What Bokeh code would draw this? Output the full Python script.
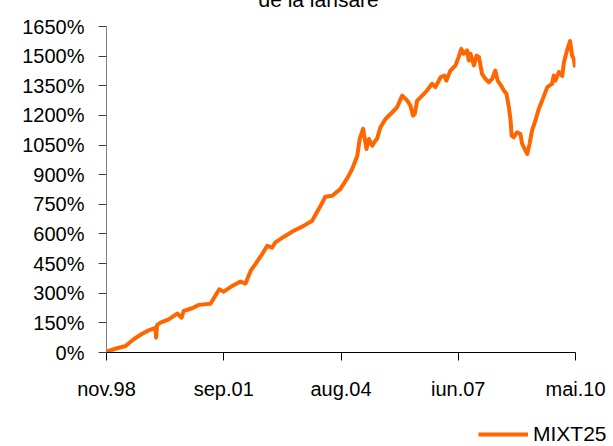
from bokeh.plotting import figure
from bokeh.layouts import column
from bokeh.models import (FixedTicker, PrintfTickFormatter, Legend,
                          LegendItem, ColumnDataSource)
from bokeh.embed import file_html
from bokeh.resources import INLINE

# ---- data (months since launch, Nov 1998; value in % since launch) ----
months = [0.0, 2.6, 5.6, 8.0, 10.5, 12.4, 14.2, 14.4, 14.6, 14.9, 15.9,
          18.3, 20.8, 22.1, 22.7, 25.2, 27.2, 30.6, 31.6, 33.2, 34.5,
          37.0, 39.4, 40.9, 42.4, 43.8, 45.8, 47.3, 48.7, 49.7, 52.1,
          55.1, 58.0, 60.5, 63.0, 64.4, 66.4, 68.8, 71.0, 72.3, 73.8,
          74.5, 75.5, 76.5, 77.2, 78.2, 79.1, 79.6, 80.6, 82.1, 84.1,
          85.5, 87.0, 88.5, 89.4, 90.2, 90.7, 91.4, 92.9, 94.3, 95.8,
          96.8, 98.3, 99.4, 100.0, 101.2, 102.7, 103.6, 104.4, 105.1,
          106.1, 106.6, 107.1, 108.1, 108.9, 109.6, 110.5, 111.5, 112.5,
          113.5, 114.4, 115.1, 116.1, 116.9, 117.7, 118.4, 118.9, 119.2,
          119.8, 120.8, 121.8, 122.3, 123.3, 123.8, 124.5, 125.2, 126.2,
          127.2, 128.2, 129.7, 131.1, 131.6, 132.1, 133.1, 134.1, 134.6,
          135.5, 136.4, 137.0, 137.5, 137.8, 138.0]
mixt25 = [4, 19, 33, 67, 95, 112, 123, 125, 75, 140, 151,
          168, 197, 176, 210, 224, 241, 247, 275, 320, 308,
          337, 359, 349, 413, 447, 498, 540, 531, 557, 585,
          616, 641, 667, 743, 788, 793, 827, 886, 929, 996,
          1081, 1132, 1030, 1081, 1047, 1072, 1081, 1140, 1182, 1216,
          1241, 1300, 1275, 1250, 1199, 1208, 1275, 1300, 1326, 1360,
          1343, 1393, 1402, 1376, 1427, 1453, 1495, 1537, 1512,
          1529, 1478, 1512, 1453, 1503, 1495, 1410, 1385, 1368,
          1385, 1427, 1376, 1351, 1326, 1309, 1241, 1174, 1098,
          1089, 1114, 1106, 1056, 1022, 1005, 1056, 1123, 1174,
          1233, 1275, 1343, 1360, 1402, 1376, 1420, 1400, 1469,
          1529, 1576, 1503, 1486, 1453, 1444]

tick_months = [0, 34.5, 69, 103.5, 138]
tick_labels = ["nov.98", "sep.01", "aug.04", "iun.07", "mai.10"]
y_ticks = [0, 150, 300, 450, 600, 750, 900, 1050, 1200, 1350, 1500, 1650]
series_name = "MIXT25"
title_text = "de la lansare"

FONT = "Liberation Sans"
ORANGE = "#FF6600"

src = ColumnDataSource(dict(m=months, v=mixt25))

# ---------------- main chart ----------------
p = figure(frame_width=469, frame_height=326,
           x_range=(tick_months[0], tick_months[-1]),
           y_range=(y_ticks[0], y_ticks[-1]),
           min_border_left=106, min_border_right=38,
           min_border_top=60, min_border_bottom=66,
           output_backend="svg", toolbar_location=None,
           styles={"margin-top": "-34px"})

p.background_fill_color = "white"
p.border_fill_color = "white"
p.outline_line_color = None
p.xgrid.visible = False
p.ygrid.visible = False

# title (only its lower part shows, as in the reference)
p.title.text = title_text
p.title.align = "left"
p.title.offset = 152
p.title.standoff = 32
p.title.text_font = FONT
p.title.text_font_size = "21px"
p.title.text_font_style = "normal"
p.title.text_color = "black"

p.line("m", "v", source=src, line_color=ORANGE, line_width=4,
       line_join="round")

# y axis
p.yaxis.ticker = FixedTicker(ticks=y_ticks)
p.yaxis.formatter = PrintfTickFormatter(format="%d%%")
p.yaxis.axis_line_color = "#808080"
p.yaxis.major_tick_line_color = "#404040"
p.yaxis.major_tick_in = 0
p.yaxis.major_tick_out = 8
p.yaxis.minor_tick_line_color = None
p.yaxis.major_label_standoff = 14
p.yaxis.major_label_text_font = FONT
p.yaxis.major_label_text_font_size = "20px"
p.yaxis.major_label_text_color = "black"

# x axis
p.xaxis.ticker = FixedTicker(ticks=tick_months)
p.xaxis.major_label_overrides = dict(zip(tick_months, tick_labels))
p.xaxis.axis_line_color = "black"
p.xaxis.major_tick_line_color = "black"
p.xaxis.major_tick_in = 0
p.xaxis.major_tick_out = 8
p.xaxis.minor_tick_line_color = None
p.xaxis.major_label_standoff = 17
p.xaxis.major_label_text_font = FONT
p.xaxis.major_label_text_font_size = "20px"
p.xaxis.major_label_text_color = "black"

# ---------------- legend strip (own small figure) ----------------
lf = figure(frame_width=135, frame_height=28,
            x_range=(-1000, -999), y_range=(-1000, -999),
            min_border_left=0, min_border_right=0,
            min_border_top=0, min_border_bottom=0,
            x_axis_type=None, y_axis_type=None,
            output_backend="svg", toolbar_location=None,
            styles={"margin-left": "478px"})
lf.outline_line_color = None
lf.xgrid.visible = False
lf.ygrid.visible = False
lf.background_fill_color = "white"
lf.border_fill_color = "white"
lr = lf.line("m", "v", source=src, line_color=ORANGE, line_width=4)

legend = Legend(items=[LegendItem(label=series_name, renderers=[lr])],
                location=(0, 0), glyph_width=50, glyph_height=20,
                label_standoff=5, padding=0, margin=0, spacing=0,
                border_line_color=None, background_fill_alpha=0,
                label_text_font=FONT, label_text_font_size="21px",
                label_text_color="black")
lf.add_layout(legend)

layout = column(p, lf, spacing=0)

open("out.html", "w").write(file_html(layout, INLINE))
